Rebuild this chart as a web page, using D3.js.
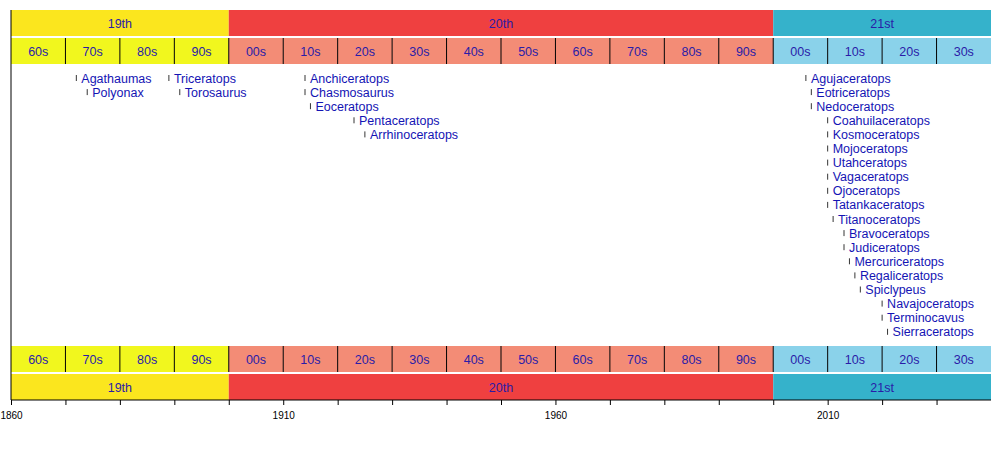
<!DOCTYPE html>
<html><head><meta charset="utf-8">
<script src="https://cdn.jsdelivr.net/npm/d3@7"></script>
<style>body{margin:0;background:#fff}text{font-family:"Liberation Sans",Arial,sans-serif}</style>
</head><body><svg id="c" width="1000" height="450"></svg>
<script>
const centuries = [{name:"19th",start:1860,end:1900},{name:"20th",start:1900,end:2000},{name:"21st",start:2000,end:2040}];
const decadeStarts = d3.range(1860, 2040, 10);
const names = ["Agathaumas","Polyonax","Triceratops","Torosaurus","Anchiceratops","Chasmosaurus","Eoceratops","Pentaceratops","Arrhinoceratops","Agujaceratops","Eotriceratops","Nedoceratops","Coahuilaceratops","Kosmoceratops","Mojoceratops","Utahceratops","Vagaceratops","Ojoceratops","Tatankaceratops","Titanoceratops","Bravoceratops","Judiceratops","Mercuriceratops","Regaliceratops","Spiclypeus","Navajoceratops","Terminocavus","Sierraceratops"];
const years = [1872,1874,1889,1891,1914,1914,1915,1923,1925,2006,2007,2007,2010,2010,2010,2010,2010,2010,2010,2011,2013,2013,2014,2015,2016,2020,2020,2021];
const axisTicks = [1860,1910,1960,2010];

const centColor = {"19th":"#fbe61e","20th":"#ef4040","21st":"#35b2cb"};
const decColor = {"19th":"#f1f71e","20th":"#f38c76","21st":"#8ad2ea"};
const txt = "#2a1ca8";
const lblColor = "#1414b4";
const svg = d3.select("#c");
const x = d3.scaleLinear().domain([1860,2040]).range([11,991]);
const cent = y => centuries.find(c => y>=c.start && y<c.end).name;

function centRow(y0){
  const g = svg.append("g");
  g.selectAll("rect").data(centuries).join("rect")
    .attr("x",d=>x(d.start)).attr("width",d=>x(d.end)-x(d.start)).attr("y",y0).attr("height",26)
    .attr("fill",d=>centColor[d.name]);
  g.selectAll("text").data(centuries).join("text")
    .attr("x",d=>(x(d.start)+x(d.end))/2).attr("y",y0+17.5).attr("text-anchor","middle")
    .attr("font-size",12.5).attr("fill",txt).text(d=>d.name);
}
function decRow(y0){
  const g = svg.append("g");
  g.selectAll("rect").data(decadeStarts).join("rect")
    .attr("x",d=>x(d)).attr("width",d=>x(d+10)-x(d)).attr("y",y0).attr("height",26)
    .attr("fill",d=>decColor[cent(d)]);
  g.selectAll("line").data(decadeStarts.slice(1)).join("line")
    .attr("x1",d=>x(d)).attr("x2",d=>x(d)).attr("y1",y0).attr("y2",y0+26)
    .attr("stroke","#000").attr("stroke-width",1);
  g.selectAll("text").data(decadeStarts).join("text")
    .attr("x",d=>(x(d)+x(d+10))/2).attr("y",y0+17.5).attr("text-anchor","middle")
    .attr("font-size",12.5).attr("fill",txt).text(d=>String(d%100).padStart(2,"0")+"s");
}
centRow(10); decRow(38); decRow(346); centRow(374);

svg.append("line").attr("x1",11).attr("x2",11).attr("y1",10).attr("y2",400).attr("stroke","#000");

const rowEnds = [];
const lg = svg.append("g");
names.forEach((n,i)=>{
  const px = x(years[i]);
  let r = 0;
  while (rowEnds[r] !== undefined && rowEnds[r] > px - 2) r++;
  const cy = 78 + r*14.1;
  lg.append("line").attr("x1",px).attr("x2",px).attr("y1",cy-3).attr("y2",cy+3).attr("stroke","#000").attr("stroke-width",0.8);
  const t = lg.append("text").attr("x",px+5).attr("y",cy+4.5).attr("font-size",12.5).attr("fill",lblColor).text(n);
  rowEnds[r] = px + 5 + t.node().getComputedTextLength();
});

const ag = svg.append("g").attr("transform","translate(0,400)");
ag.call(d3.axisBottom(x).tickValues(d3.range(1860,2040,10)).tickSize(5).tickFormat(d=>axisTicks.includes(d)?d:""));
ag.select(".domain").attr("d",`M11,0H991`);
ag.selectAll("text").attr("font-size",10).attr("fill","#000").attr("y",12).attr("dy","0.71em").attr("font-family","'Liberation Sans',Arial,sans-serif");
</script></body></html>
